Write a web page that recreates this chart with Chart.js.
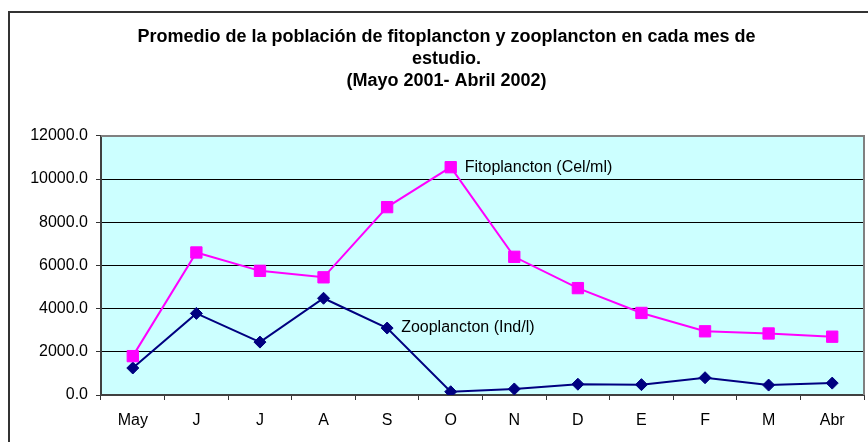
<!DOCTYPE html>
<html>
<head>
<meta charset="utf-8">
<script src="https://cdn.jsdelivr.net/npm/chart.js@4"></script>
<style>
  html, body { margin: 0; padding: 0; background: #fff; }
  #wrap { position: relative; width: 868px; height: 442px; overflow: hidden; }
  #frame { position: absolute; left: 8px; top: 11px; width: 900px; height: 500px; border: 2px solid #333; box-sizing: border-box; }
  canvas { position: absolute; left: 0; top: 0; }
</style>
</head>
<body>
<div id="wrap">
  <div id="frame"></div>
  <canvas id="c" width="868" height="442"></canvas>
</div>
<script>
const titleLines = [
  "Promedio de la población de fitoplancton y zooplancton en cada mes de",
  "estudio.",
  "(Mayo 2001- Abril 2002)"
];
const months = ["May", "J", "J", "A", "S", "O", "N", "D", "E", "F", "M", "Abr"];
const fitoName = "Fitoplancton (Cel/ml)";
const zooName = "Zooplancton (Ind/l)";
const fitoplancton = [1800, 6600, 5750, 5450, 8700, 10550, 6400, 4950, 3800, 2950, 2850, 2700];
const zooplancton = [1250, 3780, 2450, 4480, 3100, 150, 280, 500, 480, 800, 460, 550];
const fitoLabelIndex = 5;
const zooLabelIndex = 4;
const yTicks = [0, 2000, 4000, 6000, 8000, 10000, 12000];

const FONT = "'Liberation Sans', Arial, sans-serif";

const plotBg = {
  id: 'plotBg',
  beforeDraw(chart) {
    const { ctx, chartArea: a } = chart;
    ctx.save();
    ctx.fillStyle = '#CCFFFF';
    ctx.fillRect(a.left, a.top, a.right - a.left, a.bottom - a.top);
    ctx.restore();
  },
  beforeDatasetsDraw(chart) {
    const { ctx, chartArea: a } = chart;
    ctx.save();
    ctx.strokeStyle = '#808080';
    ctx.lineWidth = 2;
    ctx.beginPath();
    ctx.moveTo(a.left, a.top);
    ctx.lineTo(a.right, a.top);
    ctx.lineTo(a.right, a.bottom);
    ctx.stroke();
    ctx.restore();
  }
};

const seriesLabels = {
  id: 'seriesLabels',
  afterDatasetsDraw(chart) {
    const { ctx } = chart;
    ctx.save();
    ctx.font = '16px ' + FONT;
    ctx.fillStyle = '#000';
    ctx.textAlign = 'left';
    ctx.textBaseline = 'middle';
    const items = [[0, fitoLabelIndex, fitoName], [1, zooLabelIndex, zooName]];
    items.forEach(([ds, idx, txt]) => {
      const p = chart.getDatasetMeta(ds).data[idx];
      ctx.fillText(txt, p.x + 14, p.y);
    });
    ctx.restore();
  }
};

new Chart(document.getElementById('c'), {
  type: 'line',
  data: {
    labels: months,
    datasets: [
      {
        label: fitoName,
        data: fitoplancton,
        borderColor: '#FF00FF',
        backgroundColor: '#FF00FF',
        borderWidth: 2,
        pointStyle: 'rect',
        pointRadius: 8,
        pointBorderWidth: 1,
        pointBorderColor: '#FF00FF',
        tension: 0
      },
      {
        label: zooName,
        data: zooplancton,
        borderColor: '#000080',
        backgroundColor: '#000080',
        borderWidth: 2,
        pointStyle: 'rectRot',
        pointRadius: 6,
        pointBorderWidth: 1,
        pointBorderColor: '#000080',
        tension: 0
      }
    ]
  },
  options: {
    responsive: false,
    animation: false,
    devicePixelRatio: 1,
    layout: { autoPadding: false, padding: { left: 29, right: 4, top: 0, bottom: 0 } },
    plugins: {
      legend: { display: false },
      tooltip: { enabled: false },
      title: {
        display: true,
        text: titleLines,
        color: '#000',
        font: { family: FONT, size: 18, weight: 'bold', lineHeight: 1.22 },
        padding: { top: 26, bottom: 44 }
      }
    },
    scales: {
      x: {
        offset: true,
        grid: {
          offset: true,
          drawOnChartArea: false,
          drawTicks: true,
          tickLength: 5,
          tickColor: '#333',
          tickWidth: 1
        },
        border: { display: true, color: '#404040', width: 2 },
        ticks: { color: '#000', font: { family: FONT, size: 16 }, padding: 11, maxRotation: 0, autoSkip: false },
        afterFit(s) { s.height = 47; }
      },
      y: {
        min: 0,
        max: 12000,
        afterBuildTicks(s) { s.ticks = yTicks.map(v => ({ value: v })); },
        grid: {
          color: '#000',
          lineWidth: 1,
          drawTicks: true,
          tickLength: 5,
          tickColor: '#333'
        },
        border: { display: true, color: '#404040', width: 2 },
        ticks: {
          color: '#000',
          font: { family: FONT, size: 16 },
          padding: 8,
          callback: v => Number(v).toFixed(1)
        },
        afterFit(s) { s.width = 72; }
      }
    }
  },
  plugins: [plotBg, seriesLabels]
});
</script>
</body>
</html>
